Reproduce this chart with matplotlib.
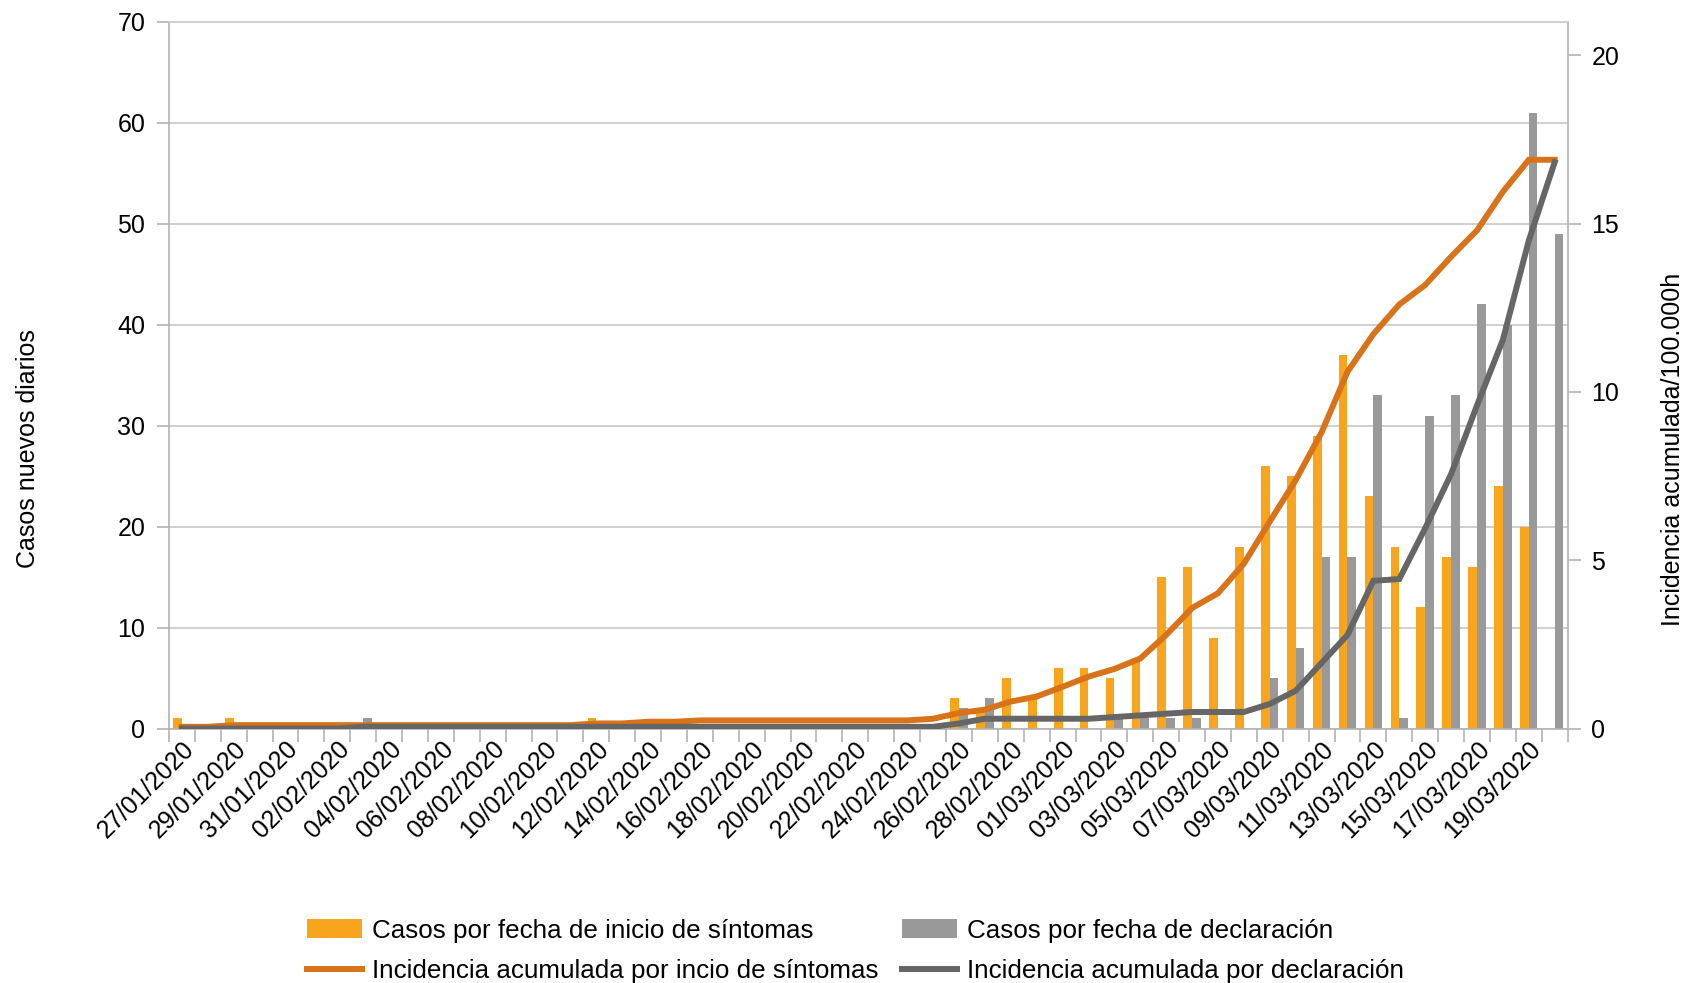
import matplotlib
matplotlib.use("Agg")
import matplotlib.pyplot as plt
import numpy as np
from matplotlib.ticker import MultipleLocator

# dates 27/01/2020 .. 20/03/2020
fechas = ["27/01/2020", "28/01/2020", "29/01/2020", "30/01/2020", "31/01/2020",
          "01/02/2020", "02/02/2020", "03/02/2020", "04/02/2020", "05/02/2020",
          "06/02/2020", "07/02/2020", "08/02/2020", "09/02/2020", "10/02/2020",
          "11/02/2020", "12/02/2020", "13/02/2020", "14/02/2020", "15/02/2020",
          "16/02/2020", "17/02/2020", "18/02/2020", "19/02/2020", "20/02/2020",
          "21/02/2020", "22/02/2020", "23/02/2020", "24/02/2020", "25/02/2020",
          "26/02/2020", "27/02/2020", "28/02/2020", "29/02/2020", "01/03/2020",
          "02/03/2020", "03/03/2020", "04/03/2020", "05/03/2020", "06/03/2020",
          "07/03/2020", "08/03/2020", "09/03/2020", "10/03/2020", "11/03/2020",
          "12/03/2020", "13/03/2020", "14/03/2020", "15/03/2020", "16/03/2020",
          "17/03/2020", "18/03/2020", "19/03/2020", "20/03/2020"]

casos_sintomas = [1, 0, 1, 0, 0, 0, 0, 0, 0, 0,
                  0, 0, 0, 0, 0, 0, 1, 0, 0, 0,
                  0, 0, 0, 0, 0, 0, 0, 0, 0, 0,
                  3, 2, 5, 3, 6, 6, 5, 7, 15, 16,
                  9, 18, 26, 25, 29, 37, 23, 18, 12, 17,
                  16, 24, 20, 0]

casos_declaracion = [0, 0, 0, 0, 0, 0, 0, 1, 0, 0,
                     0, 0, 0, 0, 0, 0, 0, 0, 0, 0,
                     0, 0, 0, 0, 0, 0, 0, 0, 0, 0,
                     2, 3, 0, 0, 0, 0, 1, 1, 1, 1,
                     0, 0, 5, 8, 17, 17, 33, 1, 31, 33,
                     42, 40, 61, 49]

ia_sintomas = [0.05, 0.05, 0.10, 0.10, 0.10, 0.10, 0.10, 0.10, 0.10, 0.10,
               0.10, 0.10, 0.10, 0.10, 0.10, 0.10, 0.15, 0.15, 0.20, 0.20,
               0.24, 0.24, 0.24, 0.24, 0.24, 0.24, 0.24, 0.24, 0.24, 0.29,
               0.46, 0.56, 0.80, 0.95, 1.24, 1.54, 1.77, 2.08, 2.78, 3.58,
               4.02, 4.90, 6.15, 7.38, 8.80, 10.60, 11.72, 12.60, 13.18, 14.02,
               14.80, 15.95, 16.90, 16.90]

ia_declaracion = [0, 0, 0, 0, 0, 0, 0, 0.05, 0.05, 0.05,
                  0.05, 0.05, 0.05, 0.05, 0.05, 0.05, 0.05, 0.05, 0.05, 0.05,
                  0.05, 0.05, 0.05, 0.05, 0.05, 0.05, 0.05, 0.05, 0.05, 0.05,
                  0.15, 0.29, 0.29, 0.29, 0.29, 0.29, 0.34, 0.39, 0.44, 0.49,
                  0.49, 0.49, 0.73, 1.12, 1.95, 2.78, 4.39, 4.44, 5.95, 7.56,
                  9.60, 11.55, 14.50, 16.83]

ORANGE_BAR = "#F8A51D"
GRAY_BAR = "#999999"
ORANGE_LINE = "#D9731A"
GRAY_LINE = "#666666"
AXIS_GRAY = "#B3B3B3"
GRID_GRAY = "#CCCCCC"

plt.rcParams["font.family"] = ["Liberation Sans", "DejaVu Sans"]

fig = plt.figure(figsize=(16.86, 9.83), dpi=100)
ax = fig.add_axes([0.1002, 0.2589, 0.8296, 0.7189])

x = np.arange(len(fechas))
w = 0.336
b1 = ax.bar(x - w / 2, casos_sintomas, w, color=ORANGE_BAR, zorder=2,
            label="Casos por fecha de inicio de síntomas")
b2 = ax.bar(x + w / 2, casos_declaracion, w, color=GRAY_BAR, zorder=2,
            label="Casos por fecha de declaración")

ax.set_xlim(-0.5, len(fechas) - 0.5)
ax.set_ylim(0, 70)
ax.yaxis.set_major_locator(MultipleLocator(10))
ax.grid(axis="y", color=GRID_GRAY, linewidth=1.3, zorder=0)
ax.set_axisbelow(True)

# x ticks: marks at category borders, labels every other day
ax.set_xticks(x[::2])
ax.set_xticklabels(fechas[::2], rotation=45, ha="right", rotation_mode="anchor",
                   fontsize=18)
ax.tick_params(axis="x", length=0, pad=6)
ax.set_xticks(np.arange(-0.5, len(fechas)), minor=True)
ax.tick_params(axis="x", which="minor", length=9, color=AXIS_GRAY, width=1.2)
ax.tick_params(axis="y", labelsize=18, length=9, color=AXIS_GRAY, width=1.2, pad=8)

for s in ["left", "right", "top", "bottom"]:
    ax.spines[s].set_color(AXIS_GRAY)
    ax.spines[s].set_linewidth(1.2)
ax.spines["top"].set_color(GRID_GRAY)

ax.set_ylabel("Casos nuevos diarios", fontsize=18, labelpad=56)
ax.yaxis.label.set_y(0.396)

ax2 = ax.twinx()
l1, = ax2.plot(x, ia_sintomas, color=ORANGE_LINE, linewidth=4.3,
               solid_joinstyle="miter", zorder=3,
               label="Incidencia acumulada por incio de síntomas")
l2, = ax2.plot(x, ia_declaracion, color=GRAY_LINE, linewidth=4.3,
               solid_joinstyle="miter", zorder=3,
               label="Incidencia acumulada por declaración")
ax2.set_ylim(0, 21)
ax2.set_yticks([0, 5, 10, 15, 20])
ax2.tick_params(axis="y", labelsize=18, length=9, color=AXIS_GRAY, width=1.2, pad=8)
for s in ["left", "right", "top", "bottom"]:
    ax2.spines[s].set_visible(False)
ax2.set_ylabel("Incidencia acumulada/100.000h", fontsize=18, labelpad=30)
ax2.yaxis.label.set_y(0.3955)

leg = fig.legend([b1, l1, b2, l2],
                 [b1.get_label(), l1.get_label(), b2.get_label(), l2.get_label()],
                 ncol=2, loc="center", bbox_to_anchor=(0.5075, 0.033),
                 frameon=False, prop={"size": 18.7},
                 handlelength=2.1, handletextpad=0.4, columnspacing=0.9,
                 labelspacing=0.62)

fig.savefig("out.png", dpi=100)
